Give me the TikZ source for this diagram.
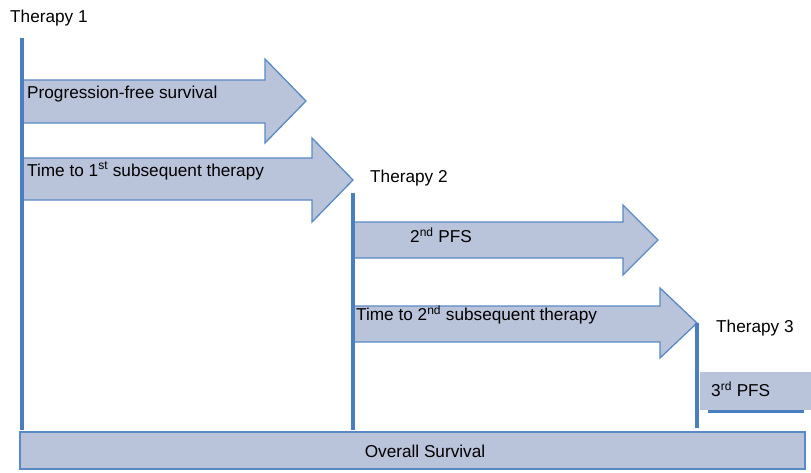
\documentclass[tikz,border=0pt]{standalone}
\usepackage{fontspec}
\setmainfont{Liberation Sans}
\definecolor{boxfill}{HTML}{B9C3D9}
\definecolor{boxline}{HTML}{5A8AC6}
\definecolor{vline}{HTML}{4A7EC0}
\begin{document}
\begin{tikzpicture}[x=1pt,y=-1pt,
  arrowshape/.style={fill=boxfill,draw=boxline,line width=1.3pt,line join=miter},
  therapyline/.style={draw=vline,line width=3.2pt},
  lbl/.style={font=\fontsize{17.2}{19}\selectfont,inner sep=0pt,anchor=west}]
\useasboundingbox (0,0) rectangle (811,472);
% Overall survival box
\draw[arrowshape] (20,432) rectangle (805,469);
\node[font=\fontsize{17.2}{19}\selectfont] (os) at (425,451) {Overall Survival};
% 3rd PFS box
\fill[boxfill] (700,372) rectangle (811,410);
\draw[vline,line width=3pt] (708,411) -- (804,411);
% arrows
\draw[arrowshape] (22,80) -- (265,80) -- (265,59) -- (306,101) -- (265,143) -- (265,123) -- (22,123);
\draw[arrowshape] (22,158) -- (312,158) -- (312,138) -- (353,180) -- (312,222) -- (312,200) -- (22,200);
\draw[arrowshape] (353,222) -- (623,222) -- (623,205) -- (658,240) -- (623,275) -- (623,258) -- (353,258);
\draw[arrowshape] (353,306) -- (660,306) -- (660,288) -- (697,323) -- (660,358) -- (660,342) -- (353,342);
% therapy lines
\draw[therapyline] (22,38) -- (22,430);
\draw[therapyline] (353,193) -- (353,430);
\draw[therapyline] (697,323) -- (697,428);
% labels
\node[lbl] (t1) at (10,18) {Therapy 1};
\node[lbl] (pfs) at (27,94) {Progression-free survival};
\node[lbl] (tt1) at (27,171) {Time to 1\textsuperscript{st} subsequent therapy};
\node[lbl] (t2) at (370,178) {Therapy 2};
\node[lbl] (pfs2) at (410,235) {2\textsuperscript{nd} PFS};
\node[lbl] (tt2) at (356,315) {Time to 2\textsuperscript{nd} subsequent therapy};
\node[lbl] (t3) at (716,328) {Therapy 3};
\node[lbl] (pfs3) at (711,389) {3\textsuperscript{rd} PFS};
\end{tikzpicture}
\end{document}
